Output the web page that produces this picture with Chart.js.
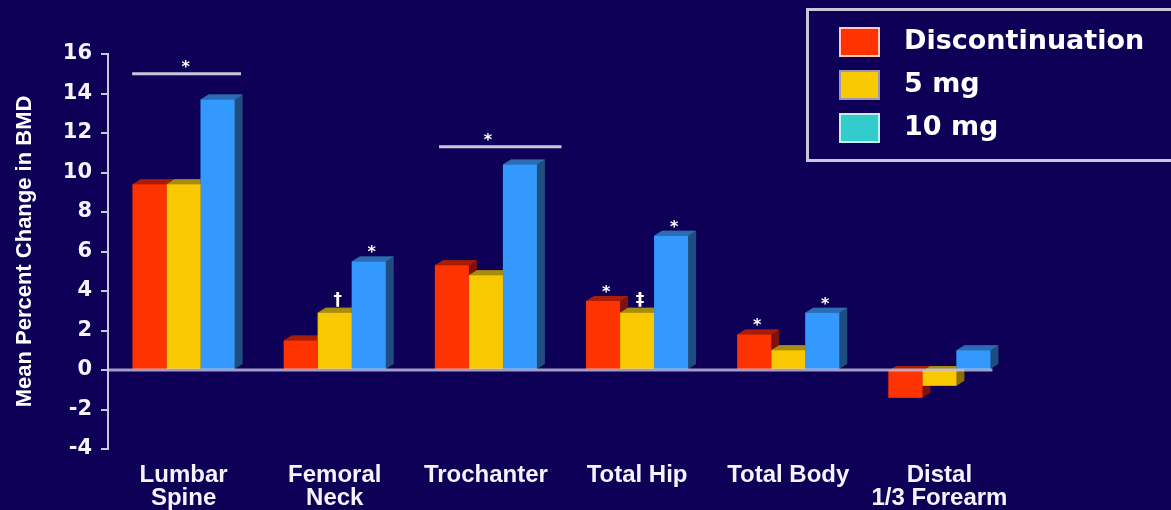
<!DOCTYPE html>
<html>
<head>
<meta charset="utf-8">
<script src="https://cdn.jsdelivr.net/npm/chart.js@4.4.1/dist/chart.umd.min.js"></script>
<style>
html,body{margin:0;padding:0;background:#0e0056;overflow:hidden}
#wrap{position:relative;width:1171px;height:510px;overflow:hidden}
#legend{position:absolute;left:806px;top:8px;width:365px;height:154px;border-top:3px solid #c8c8dc;border-bottom:3px solid #c8c8dc;border-left:3px solid #c8c8dc;box-sizing:border-box}
.item{position:absolute;left:0;height:30px;font:bold 27px "DejaVu Sans",sans-serif;color:#fff;line-height:30px}
.item span{position:absolute;left:30px;top:0;width:37px;height:26px;border:2px solid #ddd}
.item b{position:absolute;left:95px;top:-2px;white-space:nowrap}
</style>
</head>
<body>
<div id="wrap">
<canvas id="bmdChart" width="1171" height="510"></canvas>
<div id="legend"></div>
</div>
<script>
'use strict';
// BMD change by site, three treatment groups
var categories = [['Lumbar','Spine'],['Femoral','Neck'],'Trochanter','Total Hip','Total Body',['Distal','1/3 Forearm']];
var seriesNames = ['Discontinuation','5 mg','10 mg'];
var discontinuation = [9.4,1.5,5.3,3.5,1.8,-1.4];
var fiveMg = [9.4,2.9,4.8,2.9,1.0,-0.8];
var tenMg = [13.7,5.5,10.4,6.8,2.9,1.0];
var yTicks = [-4,-2,0,2,4,6,8,10,12,14,16];
// significance marks: category, series, symbol
var markCat = [1,1,3,3,3,4,4];
var markSeries = [2,1,0,1,2,0,2];
var markSymbol = ['*','\u2020','*','\u2021','*','*','*'];
// brackets over a whole group: category, level, span in category units
var bracketCat = [0,2];
var bracketValue = [15.0,11.3];
var bracketFrom = [-0.34,-0.31];
var bracketTo = [0.38,0.5];

var frontColors = ['#ff3300','#f8c800','#3399ff'];
var sideColors = ['#7c1212','#8a7000','#1f4d7e'];
var topColors = ['#a81c08','#a88c10','#2c6cb4'];
var legendColors = ['#ff3300','#f8c800','#33cccc'];
var legendBorders = ['#ffc8b8','#9a98b8','#c0f0f0'];
var DX = 8, DY = 5;

(function () {
    var lg = document.getElementById('legend');
    seriesNames.forEach(function (n, i) {
        var d = document.createElement('div'); d.className = 'item'; d.style.top = (16 + i * 43) + 'px';
        d.innerHTML = '<span style="background:' + legendColors[i] + ';border-color:' + legendBorders[i] + '"></span><b>' + n + '</b>';
        lg.appendChild(d);
    });
})();

var depth = {
    id:'depth',
    beforeDatasetsDraw:function (chart) {
        var ctx = chart.ctx; ctx.save();
        chart.data.datasets.forEach(function (ds, i) {
            chart.getDatasetMeta(i).data.forEach(function (b) {
                var x1 = b.x - b.width / 2, x2 = b.x + b.width / 2;
                var yt = Math.min(b.y, b.base), yb = Math.max(b.y, b.base);
                ctx.fillStyle = sideColors[i];
                ctx.beginPath(); ctx.moveTo(x1, yt); ctx.lineTo(x1 + DX, yt - DY); ctx.lineTo(x2 + DX, yt - DY);
                ctx.lineTo(x2 + DX, yb - DY); ctx.lineTo(x2, yb); ctx.lineTo(x1, yb); ctx.closePath(); ctx.fill();
                ctx.fillStyle = topColors[i];
                ctx.beginPath(); ctx.moveTo(x1, yt); ctx.lineTo(x1 + DX, yt - DY); ctx.lineTo(x2 + DX, yt - DY);
                ctx.lineTo(x2, yt); ctx.closePath(); ctx.fill();
            });
        });
        ctx.restore();
    },
    afterDatasetsDraw:function (chart) {
        var ctx = chart.ctx, y = chart.scales.y.getPixelForValue(0);
        var last = chart.getDatasetMeta(2).data[categories.length - 1];
        ctx.save(); ctx.strokeStyle = 'rgba(214,208,234,0.75)'; ctx.lineWidth = 3;
        ctx.beginPath(); ctx.moveTo(chart.chartArea.left, y); ctx.lineTo(last.x + last.width / 2 + 2, y); ctx.stroke();
        ctx.restore();
    },
    afterDraw:function (chart) {
        var ctx = chart.ctx, xs = chart.scales.x, ys = chart.scales.y;
        var cw = xs.getPixelForValue(1) - xs.getPixelForValue(0);
        ctx.save(); ctx.fillStyle = '#fff'; ctx.strokeStyle = '#c8c8dc'; ctx.lineWidth = 3;
        ctx.textAlign = 'center'; ctx.textBaseline = 'alphabetic';
        bracketCat.forEach(function (c, i) {
            var cx = xs.getPixelForValue(c), y = ys.getPixelForValue(bracketValue[i]);
            ctx.beginPath(); ctx.moveTo(cx + bracketFrom[i] * cw, y); ctx.lineTo(cx + bracketTo[i] * cw, y); ctx.stroke();
            ctx.font = 'bold 16px "DejaVu Sans"';
            ctx.fillText('*', cx + 2, y - 2);
        });
        markCat.forEach(function (c, i) {
            var b = chart.getDatasetMeta(markSeries[i]).data[c];
            var sym = markSymbol[i];
            if (sym === '*') {
                ctx.font = 'bold 16px "DejaVu Sans"'; ctx.fillText(sym, b.x + 3, b.y - 4);
            } else {
                ctx.font = 'bold 17px "DejaVu Sans"'; ctx.fillText(sym, b.x + 3, b.y - 8);
            }
        });
        ctx.restore();
    }
};

new Chart(document.getElementById('bmdChart').getContext('2d'), {
    type:'bar',
    data:{
        labels:categories,
        datasets:[
            { label:seriesNames[0], data:discontinuation, backgroundColor:frontColors[0] },
            { label:seriesNames[1], data:fiveMg, backgroundColor:frontColors[1] },
            { label:seriesNames[2], data:tenMg, backgroundColor:frontColors[2] }
        ]
    },
    options:{
        responsive:false,
        animation:false,
        layout:{ padding:{ top:54, right:156, bottom:0, left:0 } },
        datasets:{ bar:{ barPercentage:1, categoryPercentage:0.675, borderWidth:0 } },
        plugins:{ legend:{ display:false }, tooltip:{ enabled:false } },
        scales:{
            x:{
                afterFit:function (s) { s.height = 61; },
                ticks:{ color:'#f4f4ff', font:{ family:'Liberation Sans', weight:'bold', size:24, lineHeight:0.95 }, padding:15, maxRotation:0, autoSkip:false },
                grid:{ display:false, drawTicks:false },
                border:{ display:false }
            },
            y:{
                min:-4, max:16,
                afterFit:function (s) { s.width = 108; },
                afterBuildTicks:function (s) { s.ticks = yTicks.map(function (v) { return { value:v }; }); },
                ticks:{ color:'#f4f4ff', font:{ family:'DejaVu Sans', weight:'bold', size:21 }, padding:9 },
                grid:{ display:true, drawOnChartArea:false, drawTicks:true, tickLength:7, color:'#c8c8dc', lineWidth:2 },
                border:{ display:true, color:'#c8c8dc', width:2 },
                title:{ display:true, text:'Mean Percent Change in BMD', color:'#ffffff', font:{ family:'Liberation Sans', weight:'bold', size:22 }, padding:{ top:12, bottom:0 } }
            }
        }
    },
    plugins:[depth]
});
</script>
</body>
</html>
